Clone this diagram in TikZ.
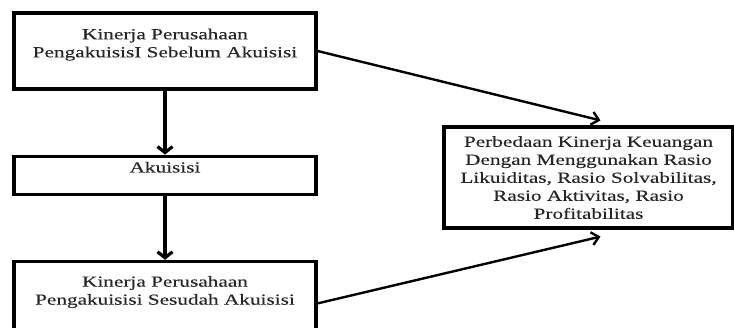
\documentclass[tikz,border=0pt]{standalone}
\usepackage{fontspec}
\setmainfont[FakeStretch=1.38,FakeBold=0.2]{Liberation Serif}
\usetikzlibrary{calc,positioning,arrows.meta}
\tikzset{
  line/.style  = {-{Straight Barb[length=6pt,width=15pt]}, line width=3.2pt},
  slant/.style = {-{Straight Barb[length=7pt,width=13pt]}, line width=2.4pt},
  box/.style   = {draw, line width=3.2pt, minimum width=302pt},
  txt/.style   = {align=center, inner sep=0pt, font=\fontsize{15.4}{18}\selectfont, text=black!85},
}

\begin{document}
\begin{tikzpicture}[x=1pt, y=1pt, node distance=64pt]
  \useasboundingbox (0,0) rectangle (734,-327);
  \node[box, minimum height=76pt] (pre) at (165,-51) {};
  \node[box, minimum height=38pt, below=of pre] (akuisisi) {};
  \node[box, minimum height=84pt, below=of akuisisi] (post) {};
  \node[box, minimum width=289pt, minimum height=101pt] (res) at (588.5,-177.5) {};
  % texts
  \node[txt, below=17pt of pre.north] (preT) {Kinerja Perusahaan\\PengakuisisI Sebelum Akuisisi};
  \node[txt, below=7pt of akuisisi.north] (akuisisiT) {Akuisisi};
  \node[txt, below=16pt of post.north] (postT) {Kinerja Perusahaan\\Pengakuisisi Sesudah Akuisisi};
  \node[txt] (resT) at (res) {Perbedaan Kinerja Keuangan\\Dengan Menggunakan Rasio\\Likuiditas, Rasio Solvabilitas,\\Rasio Aktivitas, Rasio\\Profitabilitas};
  \coordinate (in1) at ($(res.north)+(12,5)$);
  \coordinate (in2) at ($(res.south)+(12,-7)$);
  \draw[line] (pre) -- (akuisisi);
  \draw[line] (akuisisi) -- (post);
  \draw[slant] (pre.east) -- (in1);
  \draw[slant] (post.east) -- (in2);
\end{tikzpicture}
\end{document}
